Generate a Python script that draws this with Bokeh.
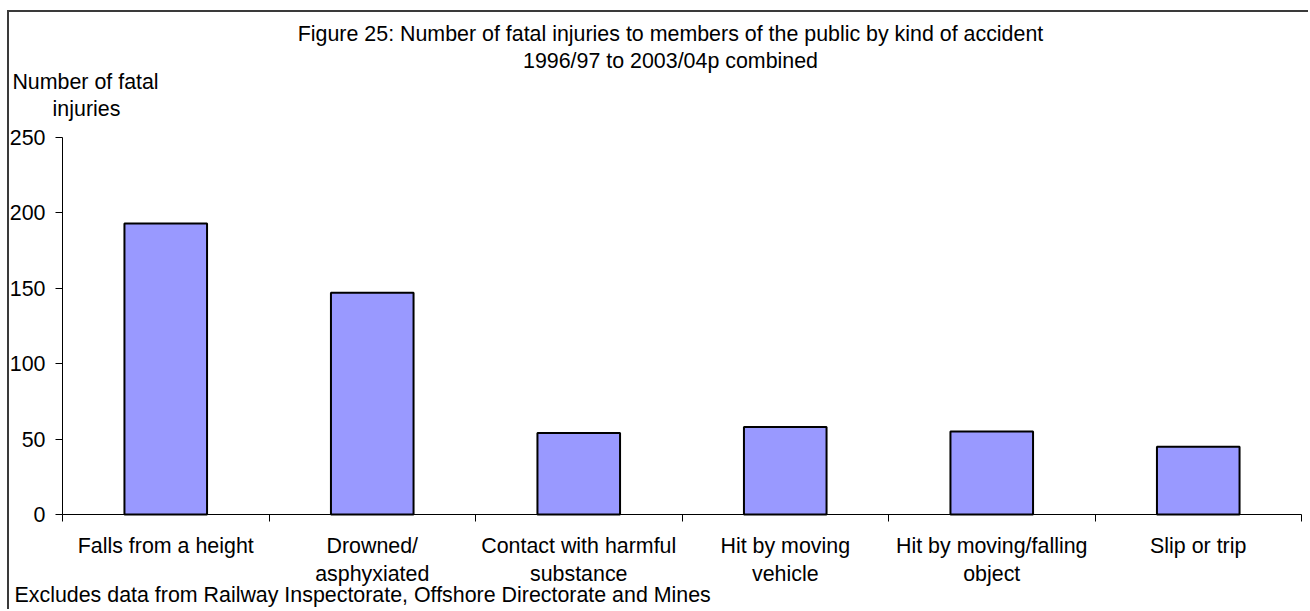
from bokeh.plotting import figure
from bokeh.models import Range1d, FixedTicker, Label, ColumnDataSource
from bokeh.embed import file_html
from bokeh.resources import INLINE

categories = [
    "Falls from a height",
    "Drowned/\nasphyxiated",
    "Contact with harmful\nsubstance",
    "Hit by moving\nvehicle",
    "Hit by moving/falling\nobject",
    "Slip or trip",
]
fatal_injuries = [193, 147, 54, 58, 55, 45]
y_ticks = [0, 50, 100, 150, 200, 250]

title_lines = [
    "Figure 25: Number of fatal injuries to members of the public by kind of accident",
    "1996/97 to 2003/04p combined",
]
y_label_lines = ["Number of fatal", "injuries"]
footnote = "Excludes data from Railway Inspectorate, Offshore Directorate and Mines"

FONT = "Liberation Sans"
FS = "21.4px"

# ---- layout constants (page pixels) ----
MARGIN_L, MARGIN_T, BORDER = 7, 10, 2
CX0, CY0 = MARGIN_L + BORDER, MARGIN_T + BORDER   # canvas origin on page
W, H = 1310 - CX0, 611 - CY0                       # canvas size
AX_LEFT, AX_RIGHT = 62, 1301   # x extent of the category axis
AX_TOP, AX_BOTTOM = 137, 514   # y positions of top and zero of value axis
Y_MAX = 250

n = len(categories)
centers = [i + 0.5 for i in range(n)]
bounds = list(range(n + 1))

xpx = (AX_RIGHT - AX_LEFT) / n
ypx = (AX_BOTTOM - AX_TOP) / Y_MAX
x_range = Range1d((CX0 - AX_LEFT) / xpx, (CX0 + W - AX_LEFT) / xpx)
y_range = Range1d(-(CY0 + H - AX_BOTTOM) / ypx, Y_MAX + (AX_TOP - CY0) / ypx)

source = ColumnDataSource(dict(x=centers, top=fatal_injuries))

p = figure(
    width=W, height=H,
    x_range=x_range, y_range=y_range,
    output_backend="svg", toolbar_location=None,
    min_border=0,
)
p.styles = {
    "margin-left": f"{MARGIN_L}px",
    "margin-top": f"{MARGIN_T}px",
    "border-left": f"{BORDER}px solid #3a3a3a",
    "border-top": f"{BORDER}px solid #3a3a3a",
}
p.outline_line_color = None
p.xgrid.visible = False
p.ygrid.visible = False
p.background_fill_color = "white"
p.border_fill_color = "white"

p.vbar(x="x", top="top", width=0.4, source=source,
       fill_color="#9999FF", line_color="black", line_width=2)

# x axis
xa = p.xaxis[0]
xa.fixed_location = 0
xa.bounds = (0, n)
xa.ticker = FixedTicker(ticks=centers, minor_ticks=bounds)
xa.major_label_overrides = {c: lab for c, lab in zip(centers, categories)}
xa.major_tick_out = 0
xa.major_tick_in = 0
xa.minor_tick_out = 7
xa.minor_tick_in = 0
xa.minor_tick_line_color = "black"
xa.axis_line_color = "black"
xa.major_label_text_font = FONT
xa.major_label_text_font_size = FS
xa.major_label_text_color = "black"
xa.major_label_text_line_height = 1.2
xa.major_label_standoff = 12

# y axis
ya = p.yaxis[0]
ya.fixed_location = 0
ya.bounds = (0, Y_MAX)
ya.ticker = FixedTicker(ticks=y_ticks, minor_ticks=[])
ya.major_tick_out = 7
ya.major_tick_in = 0
ya.major_tick_line_color = "black"
ya.axis_line_color = "black"
ya.major_label_text_font = FONT
ya.major_label_text_font_size = FS
ya.major_label_text_color = "black"
ya.major_label_standoff = 10

def add_label(text, px, py, align="center"):
    # px, py: page coordinates -> screen units (from canvas bottom-left)
    p.add_layout(Label(x=px - CX0, y=CY0 + H - py, x_units="screen", y_units="screen",
                       text=text, text_font=FONT, text_font_size=FS, text_color="black",
                       text_align=align, text_baseline="middle"))

add_label(title_lines[0], 670, 33)
add_label(title_lines[1], 670, 60)
add_label(y_label_lines[0], 85, 81)
add_label(y_label_lines[1], 86, 108)
add_label(footnote, 14, 594, align="left")

open("out.html", "w").write(file_html(p, INLINE))
